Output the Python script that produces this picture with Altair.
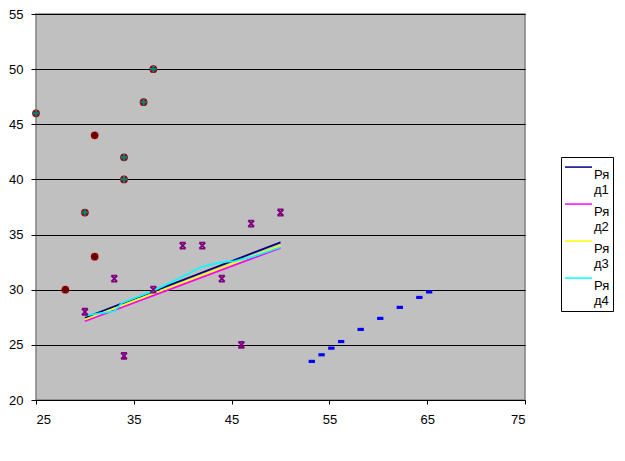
import altair as alt
import pandas as pd

# --- data ---
red_x = [25, 37, 36, 31, 34, 34, 30, 31, 28]
red_y = [46, 50, 47, 44, 42, 40, 37, 33, 30]
teal_x = [25, 37, 36, 34, 34, 30]
teal_y = [46, 50, 47, 42, 40, 37]
dark_x = [31, 31, 28]
dark_y = [44, 33, 30]
purple_x = [30, 33, 34, 37, 40, 42, 44, 46, 47, 50]
purple_y = [28, 31, 24, 30, 34, 34, 31, 25, 36, 37]
blue_x = [53.2, 54.2, 55.2, 56.2, 58.2, 60.2, 62.2, 64.2, 65.2]
blue_y = [23.5, 24.1, 24.7, 25.3, 26.4, 27.4, 28.4, 29.3, 29.8]

series_names = ["Ряд1", "Ряд2", "Ряд3", "Ряд4"]
series_colors = ["#000080", "#FF00FF", "#FFFF00", "#00FFFF"]
r1_x = [30, 50]
r1_y = [27.45, 34.3]
r2_x = [30, 50]
r2_y = [27.15, 33.8]
r3_x = [30, 50]
r3_y = [27.3, 34.0]
r4_x = [30, 33, 33.8, 37, 40, 42, 44, 45.3, 47, 50]
r4_y = [27.65, 28.05, 28.8, 29.9, 31.2, 32.1, 32.5, 32.6, 32.95, 33.85]

x_ticks = [25, 35, 45, 55, 65, 75]
y_ticks = [20, 25, 30, 35, 40, 45, 50, 55]

FONT = "Liberation Sans"

lines_df = pd.concat([
    pd.DataFrame({"x": xs, "y": ys, "s": name})
    for name, xs, ys in zip(series_names, [r1_x, r2_x, r3_x, r4_x], [r1_y, r2_y, r3_y, r4_y])
])
red_df = pd.DataFrame({"x": red_x, "y": red_y})
teal_df = pd.DataFrame({"x": teal_x, "y": teal_y})
dark_df = pd.DataFrame({"x": dark_x, "y": dark_y})
purple_df = pd.DataFrame({"x": purple_x, "y": purple_y})
blue_df = pd.DataFrame({"x": blue_x, "y": blue_y})

xs = alt.X("x:Q", scale=alt.Scale(domain=[25, 75], nice=False, zero=False),
           axis=alt.Axis(values=x_ticks, grid=False, title=None, domainColor="black",
                         tickColor="black", tickSize=4, labelPadding=9,
                         labelFontSize=13, labelFont=FONT, labelColor="black"))
ys = alt.Y("y:Q", scale=alt.Scale(domain=[20, 55], nice=False, zero=False),
           axis=alt.Axis(values=y_ticks, grid=True, gridColor="black", gridWidth=1.2,
                         domain=False, title=None, tickColor="black", tickSize=5,
                         labelPadding=8, labelFontSize=13, labelFont=FONT,
                         labelColor="black"))

lines = alt.Chart(lines_df).mark_line(strokeWidth=1.8, clip=True).encode(
    x=xs, y=ys,
    color=alt.Color("s:N", scale=alt.Scale(domain=series_names, range=series_colors),
                    legend=alt.Legend(orient="none", legendX=525, legendY=143, title=None,
                                      symbolType="M-1,-0.55H1", symbolSize=729,
                                      symbolStrokeWidth=1.5, labelFontSize=13,
                                      labelFont=FONT, labelColor="black",
                                      labelExpr="[substring(datum.label,0,2), substring(datum.label,2)]",
                                      labelBaseline="middle", labelOffset=1, labelLimit=200,
                                      strokeColor="black", padding=3, rowPadding=0,
                                      fillColor="white")),
)

red_pts = alt.Chart(red_df).mark_point(shape="circle", filled=True, size=60,
                                       color="#A00000", opacity=1).encode(x=xs, y=ys)
cross_path = "M-1,0H1M0,-1V1"
teal_pts = alt.Chart(teal_df).mark_point(shape=cross_path, filled=False, size=44,
                                         stroke="#008080", strokeWidth=2.2, opacity=1).encode(x=xs, y=ys)
dark_pts = alt.Chart(dark_df).mark_point(shape=cross_path, filled=False, size=44,
                                         stroke="#600000", strokeWidth=2.2, opacity=1).encode(x=xs, y=ys)
x_path = "M-1,-1H1M-1,1H1M-1,-1L1,1M1,-1L-1,1"
purple_pts = alt.Chart(purple_df).mark_point(shape=x_path, filled=False, size=36,
                                             stroke="#800080", strokeWidth=1.8, opacity=1).encode(x=xs, y=ys)
rect_path = "M-1,-0.5H1V0.5H-1Z"
blue_pts = alt.Chart(blue_df).mark_point(shape=rect_path, filled=True, size=40,
                                         color="#0000FF", opacity=1).encode(x=xs, y=ys)

chart = alt.layer(lines, red_pts, teal_pts, dark_pts, purple_pts, blue_pts).properties(
    width=489, height=386, background="white", padding=0
).configure_view(fill="#C0C0C0", stroke="#808080", strokeWidth=1.5)

chart.save("out.html", embed_options={"renderer": "svg", "actions": False})
